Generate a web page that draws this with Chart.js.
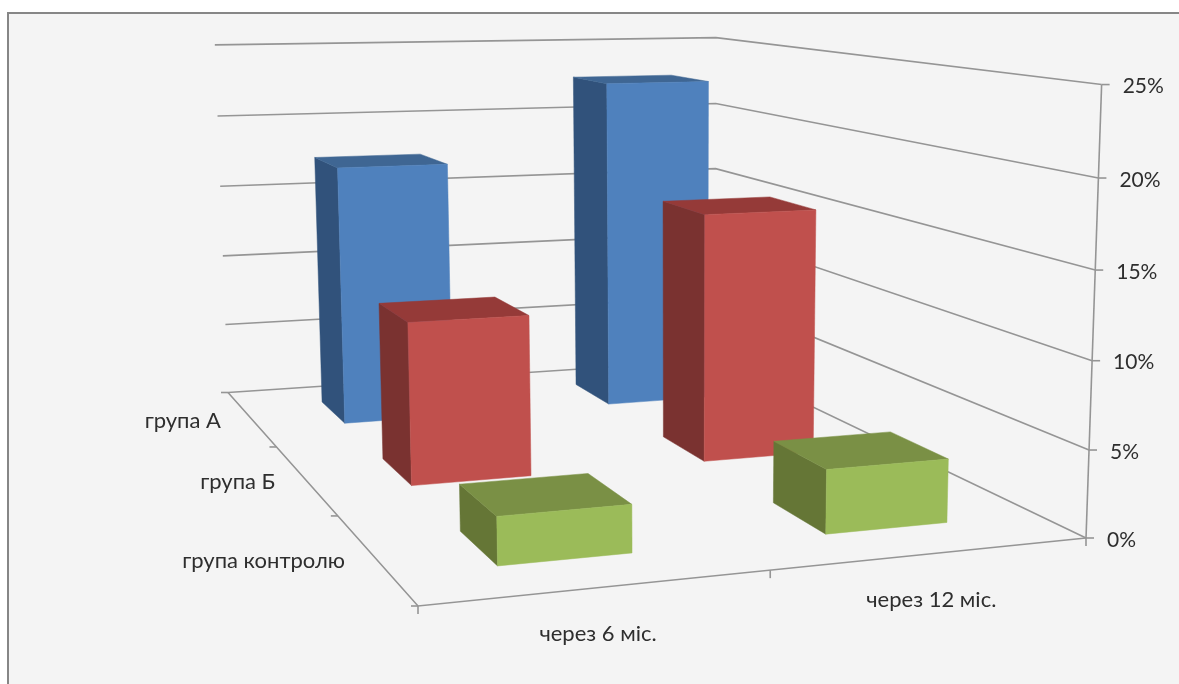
<!DOCTYPE html>
<html>
<head>
<meta charset="utf-8">
<title>Chart</title>
<script src="https://cdn.jsdelivr.net/npm/chart.js@4"></script>
<style>
    html, body { margin: 0; height: 100%; background: #fff; overflow: hidden; }
    #frame { position: absolute; left: 7px; top: 12px; right: 0; bottom: 0; background: #f4f4f4;
             border-left: 2px solid #868686; border-top: 2px solid #868686; }
    canvas { position: absolute; left: 0; top: 0; }
</style>
</head>
<body>
<div id="frame"></div>
<canvas id="myChart" width="1179" height="684"></canvas>
<script>
// values in percent
const categories = ['через 6 міс.', 'через 12 міс.'];
const seriesNames = ['група А', 'група Б', 'група контролю'];
const groupA = [17.4, 22.6];
const groupB = [10, 15.7];
const groupControl = [2.7, 3.7];
const yTicks = [0, 5, 10, 15, 20, 25];

const frontColors = ['#4f81bd', '#c0504d', '#9bbb59'];
const leftColors = ['#31527b', '#7a3230', '#657636'];
const topColors = ['#3f6693', '#953a38', '#7a9045'];

// floor of the 3d box on the page: u runs along the categories, w runs front to back
const floor = {
    frontLeft: [418, 606],
    frontRight: [1086, 538],
    backRight: [715, 360],
    backLeft: [228, 392.5]
};
// uprights lean towards this point, far below the page
const vanish = [680, 12320];
const lift = -0.04134;

const axisColor = '#959595';
const textColor = '#2e2e2e';
const labelFont = '22px Lato';
const tickFont = '21px Lato';
const rowCount = seriesNames.length;
const depthShare = 0.4;

const persp = (function () {
    const [x0, y0] = floor.frontLeft;
    const [x1, y1] = floor.frontRight;
    const [x2, y2] = floor.backRight;
    const [x3, y3] = floor.backLeft;
    const dx1 = x1 - x2, dx2 = x3 - x2, sx = x0 - x1 + x2 - x3;
    const dy1 = y1 - y2, dy2 = y3 - y2, sy = y0 - y1 + y2 - y3;
    const den = dx1 * dy2 - dx2 * dy1;
    const g = (sx * dy2 - dx2 * sy) / den;
    const h = (dx1 * sy - sx * dy1) / den;
    return {
        g, h,
        a: x1 - x0 + g * x1, b: x3 - x0 + h * x3, c: x0,
        d: y1 - y0 + g * y1, e: y3 - y0 + h * y3, f: y0
    };
})();

// t is the height as a share of the value axis, 0 on the floor and 1 at the top
function project(u, w, t) {
    const p = persp;
    const k = lift * t;
    const div = 1 + p.g * u + p.h * w + k;
    return [
        (p.a * u + p.b * w + p.c + k * vanish[0]) / div,
        (p.d * u + p.e * w + p.f + k * vanish[1]) / div
    ];
}

function polyline(ctx, points) {
    ctx.beginPath();
    points.forEach((pt, i) => i ? ctx.lineTo(pt[0], pt[1]) : ctx.moveTo(pt[0], pt[1]));
}

function face(ctx, points, color) {
    polyline(ctx, points);
    ctx.closePath();
    ctx.fillStyle = color;
    ctx.strokeStyle = color;
    ctx.lineWidth = 0.5;
    ctx.fill();
    ctx.stroke();
}

function heightShare(scale, value) {
    return (scale.bottom - scale.getPixelForValue(value)) / (scale.bottom - scale.top);
}

// bar controller that turns each bar into a box standing on the floor
class Bar3dController extends Chart.BarController {
    draw() {
        const ctx = this.chart.ctx;
        const meta = this.getMeta();
        const area = this.chart.chartArea;
        const row = meta.index;
        const wMid = (rowCount - row - 0.5) / rowCount;
        const wHalf = depthShare / rowCount / 2;
        meta.data.forEach((bar) => {
            const u0 = (bar.x - bar.width / 2 - area.left) / area.width;
            const u1 = (bar.x + bar.width / 2 - area.left) / area.width;
            const t = (bar.base - bar.y) / meta.vScale.height;
            const w0 = wMid - wHalf;
            const w1 = wMid + wHalf;
            face(ctx, [project(u0, w1, 0), project(u0, w0, 0), project(u0, w0, t), project(u0, w1, t)], leftColors[row]);
            face(ctx, [project(u0, w0, t), project(u1, w0, t), project(u1, w1, t), project(u0, w1, t)], topColors[row]);
            face(ctx, [project(u0, w0, 0), project(u1, w0, 0), project(u1, w0, t), project(u0, w0, t)], frontColors[row]);
        });
    }
}
Bar3dController.id = 'bar3d';
Bar3dController.defaults = Chart.BarController.defaults;
Bar3dController.overrides = Chart.BarController.overrides;
Chart.register(Bar3dController);

// walls, floor edges, tick marks and all the axis labels
const box3d = {
    id: 'box3d',
    beforeDatasetsDraw(chart) {
        const ctx = chart.ctx;
        const yScale = chart.scales.y;
        ctx.save();
        ctx.strokeStyle = axisColor;
        ctx.lineWidth = 1.6;
        ctx.fillStyle = textColor;
        ctx.textBaseline = 'middle';

        ctx.font = tickFont;
        yScale.ticks.forEach((tick) => {
            const t = heightShare(yScale, tick.value);
            polyline(ctx, [project(0, 1, t), project(1, 1, t), project(1, 0, t)]);
            ctx.stroke();
            const end = project(1, 0, t);
            polyline(ctx, [end, [end[0] + 8, end[1]]]);
            ctx.stroke();
            ctx.textAlign = 'left';
            ctx.fillText(tick.label, end[0] + 21, end[1] + 2);
        });

        polyline(ctx, [project(1, 0, 0), project(1, 0, 1)]);
        ctx.stroke();
        polyline(ctx, [project(0, 1, 0), project(0, 0, 0), project(1, 0, 0)]);
        ctx.stroke();

        ctx.font = labelFont;
        // ticks on the depth edge, labels sit between them
        for (let i = 0; i <= rowCount; i++) {
            const pt = project(0, i / rowCount, 0);
            polyline(ctx, [pt, [pt[0] - 7, pt[1]]]);
            ctx.stroke();
        }
        chart.data.datasets.forEach((ds, i) => {
            const pt = project(0, (rowCount - i - 0.5) / rowCount, 0);
            ctx.textAlign = 'right';
            ctx.fillText(ds.label, pt[0] - 30, pt[1] + 3);
        });

        // ticks on the front edge, labels under each category
        const count = chart.data.labels.length;
        for (let i = 0; i <= count; i++) {
            const pt = project(i / count, 0, 0);
            polyline(ctx, [pt, [pt[0], pt[1] + 8]]);
            ctx.stroke();
        }
        chart.data.labels.forEach((label, i) => {
            const pt = project((i + 0.5) / count, 0, 0);
            ctx.textAlign = 'center';
            ctx.fillText(label, pt[0] - 1, pt[1] + 46);
        });
        ctx.restore();
    }
};

const rows = [groupA, groupB, groupControl];

new Chart(document.getElementById('myChart'), {
    type: 'bar3d',
    data: {
        labels: categories,
        // back row first, front row on top
        datasets: rows.map((values, i) => ({
            label: seriesNames[i],
            data: values,
            backgroundColor: frontColors[i],
            order: rowCount - i
        }))
    },
    options: {
        responsive: false,
        animation: false,
        grouped: false,
        categoryPercentage: 1,
        barPercentage: 0.397,
        layout: { padding: 0 },
        plugins: {
            legend: { display: false },
            tooltip: { enabled: false }
        },
        scales: {
            x: { type: 'category', display: false },
            y: {
                display: false,
                min: yTicks[0],
                max: yTicks[yTicks.length - 1],
                ticks: { stepSize: yTicks[1] - yTicks[0], callback: (v) => v + '%' }
            }
        }
    },
    plugins: [box3d]
});
</script>
</body>
</html>
